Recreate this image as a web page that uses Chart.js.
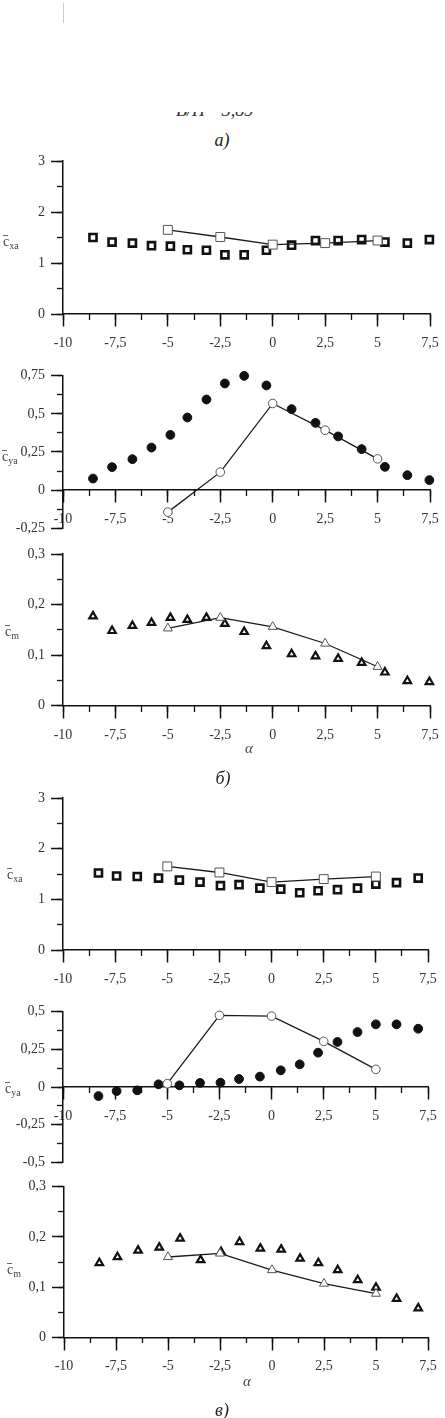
<!DOCTYPE html>
<html>
<head>
<meta charset="utf-8">
<script src="https://cdn.jsdelivr.net/npm/chart.js@4.4.1/dist/chart.umd.min.js"></script>
<style>
  html, body { margin: 0; padding: 0; background: #fff; }
  body { width: 445px; height: 1418px; position: relative; overflow: hidden;
         font-family: 'Liberation Serif', 'DejaVu Serif', serif; color: #333; }
  canvas { position: absolute; left: 0; }
  .t { position: absolute; white-space: nowrap; line-height: 1; }
  .mid { transform: translate(-50%, -50%); }
  .cap { font-size: 18px; font-style: italic; color: #222; }
  .alpha { font-size: 15px; font-style: italic; color: #444; }
  .yt { font-size: 14px; line-height: 14px; color: #444; }
  .yt sub { font-size: 10px; line-height: 0; vertical-align: -3px; }
  .c { position: relative; }
  .c::before { content: ''; position: absolute; left: 0; top: 1px; width: 5px; border-top: 1px solid #666; }
  .clip { position: absolute; left: 170px; top: 112px; width: 110px; height: 9px; overflow: hidden; }
  .clip span { position: absolute; left: 6px; top: -11px; font-size: 18px; line-height: 18px; font-style: italic; color: #333; white-space: nowrap; }
  .mark { position: absolute; left: 63px; top: 3px; width: 1px; height: 20px; background: #ccc; }
</style>
</head>
<body>
<div class="mark"></div>
<div class="clip"><span>B/H =3,85</span></div>
<div class="t mid cap" style="left:222px;top:140px">а)</div>

<canvas id="p1"></canvas>
<canvas id="p2"></canvas>
<canvas id="p3"></canvas>
<canvas id="p4"></canvas>
<canvas id="p5"></canvas>
<canvas id="p6"></canvas>

<div class="t yt" style="left:3px;top:235px"><span class="c">c</span><sub>xa</sub></div>
<div class="t yt" style="left:2px;top:450px"><span class="c">c</span><sub>ya</sub></div>
<div class="t yt" style="left:5px;top:625px"><span class="c">c</span><sub>m</sub></div>
<div class="t alpha mid" style="left:249px;top:748px">α</div>
<div class="t mid cap" style="left:223px;top:778px">б)</div>

<div class="t yt" style="left:7px;top:868px"><span class="c">c</span><sub>xa</sub></div>
<div class="t yt" style="left:5px;top:1082px"><span class="c">c</span><sub>ya</sub></div>
<div class="t yt" style="left:7px;top:1263px"><span class="c">c</span><sub>m</sub></div>
<div class="t alpha mid" style="left:247px;top:1381px">α</div>
<div class="t mid cap" style="left:222px;top:1410px">в)</div>

<script>
// angle of attack, measured points (filled markers)
const alphaA = [-8.57, -7.66, -6.69, -5.78, -4.88, -4.07, -3.16, -2.28, -1.36, -0.30, 0.90, 2.04, 3.12, 4.24, 5.35, 6.42, 7.47];
const alphaB = [-8.30, -7.43, -6.44, -5.42, -4.42, -3.43, -2.45, -1.56, -0.56, 0.44, 1.35, 2.23, 3.16, 4.12, 5.00, 5.99, 7.03];
// computed points (open markers joined by a line)
const alphaCalc = [-5, -2.5, 0, 2.5, 5];

// б)
const cxaA = [1.50, 1.41, 1.39, 1.34, 1.33, 1.26, 1.25, 1.16, 1.16, 1.25, 1.35, 1.44, 1.44, 1.46, 1.41, 1.39, 1.46];
const cyaA = [0.076, 0.151, 0.203, 0.279, 0.362, 0.476, 0.594, 0.699, 0.749, 0.686, 0.531, 0.441, 0.352, 0.269, 0.153, 0.098, 0.066];
const cmA = [0.177, 0.148, 0.158, 0.164, 0.174, 0.170, 0.174, 0.162, 0.146, 0.118, 0.102, 0.098, 0.093, 0.085, 0.066, 0.049, 0.047];
const cxaCalcA = [1.65, 1.51, 1.36, 1.39, 1.44];
const cyaCalcA = [-0.144, 0.118, 0.568, 0.393, 0.205];
const cmCalcA = [0.153, 0.174, 0.156, 0.123, 0.077];

// в)
const cxaB = [1.52, 1.46, 1.45, 1.42, 1.38, 1.34, 1.27, 1.29, 1.22, 1.20, 1.13, 1.17, 1.19, 1.22, 1.30, 1.33, 1.42];
const cyaB = [-0.060, -0.027, -0.022, 0.018, 0.011, 0.027, 0.029, 0.053, 0.069, 0.111, 0.150, 0.228, 0.299, 0.365, 0.416, 0.416, 0.387];
const cmB = [0.148, 0.160, 0.173, 0.179, 0.197, 0.154, 0.170, 0.190, 0.177, 0.175, 0.157, 0.148, 0.134, 0.114, 0.099, 0.077, 0.058];
const cxaCalcB = [1.65, 1.53, 1.34, 1.40, 1.45];
const cyaCalcB = [0.022, 0.476, 0.471, 0.303, 0.117];
const cmCalcB = [0.160, 0.167, 0.134, 0.107, 0.087];

// axis ranges and tick steps [min, max, labelled step, minor step]
const alphaAxis = [-10, 7.5, 2.5, 1.25];
const cxaAxis = [0, 3, 1, 0.5];
const cyaAxisA = [-0.25, 0.75, 0.25, 0.125];
const cyaAxisB = [-0.5, 0.5, 0.25, 0.125];
const cmAxis = [0, 0.3, 0.1, 0.05];

const markers = {
  square:   { style: 'rect',     r: 5,   fill: '#fff', bw: 2.6, openR: 6.3 },
  circle:   { style: 'circle',   r: 4.4, fill: '#111', bw: 1,   openR: 4.3 },
  triangle: { style: 'triangle', r: 4.3, fill: '#fff', bw: 2.2, openR: 5.2 }
};

Chart.defaults.font.family = 'Liberation Serif';
const tickFont = { family: 'Liberation Serif', size: 14 };
const axisColor = '#111';

// decimal comma, as in the original
function fmt(v) {
  return String(Math.round(v * 1000) / 1000).replace('.', ',');
}

function points(xs, ys) {
  return xs.map((x, i) => ({ x: x, y: ys[i] }));
}

function makePanel(id, box, xs, ys, calcYs, yAxis, kind) {
  const canvas = document.getElementById(id);
  const W = 480;
  const top = Math.floor(box.top - 25);
  const H = Math.ceil(box.bottom + 45 - top);
  canvas.width = W;
  canvas.height = H;
  canvas.style.top = top + 'px';
  const m = markers[kind];

  new Chart(canvas, {
    type: 'scatter',
    data: {
      datasets: [
        {
          data: points(alphaCalc, calcYs),
          showLine: true,
          borderColor: '#1a1a1a',
          borderWidth: 1.3,
          pointStyle: m.style,
          pointRadius: m.openR,
          pointBackgroundColor: '#fff',
          pointBorderColor: '#555',
          pointBorderWidth: 1,
          clip: false
        },
        {
          data: points(xs, ys),
          showLine: false,
          pointStyle: m.style,
          pointRadius: m.r,
          pointBackgroundColor: m.fill,
          pointBorderColor: '#111',
          pointBorderWidth: m.bw,
          clip: false
        }
      ]
    },
    options: {
      responsive: false,
      animation: false,
      events: [],
      layout: {
        padding: {
          left: box.left - 50,
          right: W - box.right,
          top: box.top - top,
          bottom: H - (box.bottom - top)
        }
      },
      plugins: { legend: { display: false }, tooltip: { enabled: false } },
      scales: {
        x: {
          type: 'linear', axis: 'x', position: { y: 0 },
          min: alphaAxis[0], max: alphaAxis[1],
          ticks: { stepSize: alphaAxis[2], autoSkip: false, maxRotation: 0, padding: 9,
                   color: '#333', font: tickFont, callback: fmt },
          grid: { drawOnChartArea: false, tickLength: 12, tickColor: axisColor, tickWidth: 1.5 },
          border: { display: true, color: axisColor, width: 1.5 }
        },
        x2: {
          type: 'linear', axis: 'x', position: { y: 0 },
          min: alphaAxis[0], max: alphaAxis[1],
          ticks: { stepSize: alphaAxis[3], autoSkip: false, maxRotation: 0, callback: () => '' },
          grid: { drawOnChartArea: false, tickLength: 6, tickColor: axisColor, tickWidth: 1.3 },
          border: { display: false }
        },
        y: {
          type: 'linear', axis: 'y', position: 'left',
          min: yAxis[0], max: yAxis[1],
          afterFit: s => { s.width = 50; },
          ticks: { stepSize: yAxis[2], autoSkip: false, padding: 6,
                   color: '#333', font: tickFont, callback: fmt },
          grid: { drawOnChartArea: false, tickLength: 12, tickColor: axisColor, tickWidth: 1.5 },
          border: { display: true, color: axisColor, width: 1.5 }
        },
        y2: {
          type: 'linear', axis: 'y', position: { x: alphaAxis[0] },
          min: yAxis[0], max: yAxis[1],
          ticks: { stepSize: yAxis[3], autoSkip: false, callback: () => '' },
          grid: { drawOnChartArea: false, tickLength: 6, tickColor: axisColor, tickWidth: 1.3 },
          border: { display: false }
        }
      }
    }
  });
}

makePanel('p1', { left: 63, right: 430, top: 161, bottom: 314 }, alphaA, cxaA, cxaCalcA, cxaAxis, 'square');
makePanel('p2', { left: 63, right: 430, top: 375.7, bottom: 528.3 }, alphaA, cyaA, cyaCalcA, cyaAxisA, 'circle');
makePanel('p3', { left: 63, right: 430, top: 554, bottom: 705.7 }, alphaA, cmA, cmCalcA, cmAxis, 'triangle');
makePanel('p4', { left: 63, right: 428, top: 798, bottom: 950 }, alphaB, cxaB, cxaCalcB, cxaAxis, 'square');
makePanel('p5', { left: 63, right: 428, top: 1011.7, bottom: 1162.3 }, alphaB, cyaB, cyaCalcB, cyaAxisB, 'circle');
makePanel('p6', { left: 64, right: 428, top: 1186.7, bottom: 1337.3 }, alphaB, cmB, cmCalcB, cmAxis, 'triangle');
</script>
</body>
</html>
